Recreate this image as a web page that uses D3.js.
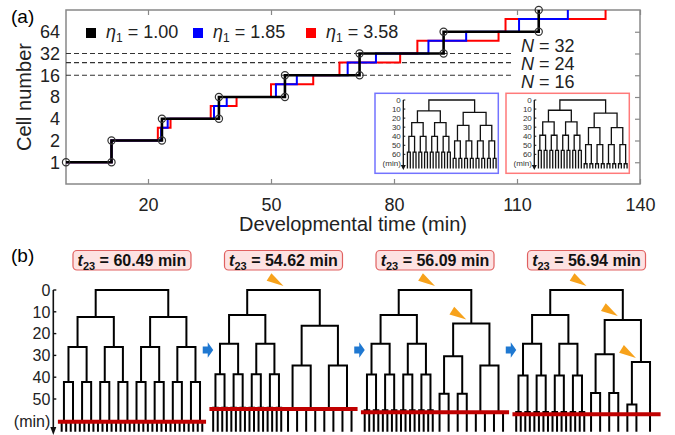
<!DOCTYPE html>
<html>
<head>
<meta charset="utf-8">
<script src="https://cdn.jsdelivr.net/npm/d3@7"></script>
<style>
body { margin: 0; background: #fff; }
svg { font-family: "Liberation Sans", Arial, sans-serif; }
</style>
</head>
<body>
<svg id="fig" width="675" height="435"></svg>
<script>
// ---- panel (a): cell number vs developmental time
const timeTicks = [20, 50, 80, 110, 140];
const cellTicks = [1, 2, 4, 8, 16, 32, 64];
const nLevels = [32, 24, 16];
const etaValues = ['1.00', '1.85', '3.58'];

// division events: time (min) and cell number after the division
const tSync = [0, 11.1, 23.4, 37.3, 53.4, 71.6, 92.1, 115.3];
const nSync = [1, 2, 4, 8, 16, 32, 64, 128];
const nAsync = [1, 2, 3, 4, 6, 8, 12, 16, 24, 32, 48, 64, 96, 128];
const tEta185 = [0, 11.1, 23.2, 24.8, 36.1, 39.2, 51.2, 56.3, 68.7, 75.6, 88.4, 97.6, 110.5, 122.4];
const tEta358 = [0, 11.1, 22.4, 25.5, 35.3, 41.6, 50.0, 60.3, 66.7, 81.5, 85.7, 105.5, 107.2, 131.6];
const insetTicks = [0, 10, 20, 30, 40, 50, 60];

// ---- panel (b): lineage trees, division times (min) per generation
const t23 = [60.49, 54.62, 56.09, 56.94];
const bTicks = [0, 10, 20, 30, 40, 50];
const genSync = [12.4, 26.1, 42.2, 60.5];
const b2Fast = [11.5, 24.6, 38.7, 54.0];
const b2Slow = [16.4, 34.6, 54.6];
const b3Fast = [11.5, 24.6, 38.8, 55.2];
const b3Slow = 15.4;
const b3SlowA = [30.4, 47.6];
const b3SlowB = [34.6, 56.1];
const b4Fast = [11.5, 24.6, 39.2, 56.0];
const b4Slow = 13.8;
const b4SlowA = [29.5, 47.2];
const b4SlowB = 33.0;
const b4SlowBA = [52.5];

const svg = d3.select('#fig');

// ================= panel (a)
const x = d3.scaleLinear().domain([0, 140]).range([66, 640]);
const y = d3.scaleLog().base(2).domain([0.5, 128]).range([184, 10]);

svg.append('text').attr('x', 11).attr('y', 23).attr('font-size', 19).text('(a)');

const gA = svg.append('g');

const styleAxis = g => {
  g.attr('font-size', null).attr('font-family', null);
  g.select('.domain').remove();
  g.selectAll('.tick line').attr('stroke', '#888').attr('stroke-width', 1.2);
  g.selectAll('.tick text').attr('fill', '#222').attr('font-size', 18);
};

gA.append('g').attr('transform', 'translate(0,184)')
  .call(d3.axisBottom(x).tickValues(timeTicks).tickSize(-5).tickPadding(14))
  .call(styleAxis);
gA.append('g').attr('transform', 'translate(0,10)')
  .call(d3.axisTop(x).tickValues(timeTicks).tickSize(-5).tickFormat(''))
  .call(styleAxis);
gA.append('g').attr('transform', 'translate(640,0)')
  .call(d3.axisRight(y).tickValues(cellTicks).tickSize(-5).tickFormat(''))
  .call(styleAxis);
gA.append('g').attr('transform', 'translate(66,0)')
  .call(d3.axisLeft(y).tickValues(cellTicks).tickSize(0).tickPadding(6).tickFormat(d3.format('d')))
  .call(styleAxis);

gA.append('rect')
  .attr('x', x(0)).attr('y', y(128))
  .attr('width', x(140) - x(0)).attr('height', y(0.5) - y(128))
  .attr('fill', 'none').attr('stroke', '#888').attr('stroke-width', 1.5);

// axis titles
svg.append('text').attr('x', 353).attr('y', 231).attr('text-anchor', 'middle')
  .attr('font-size', 20).attr('fill', '#222').text('Developmental time (min)');
svg.append('text').attr('transform', 'translate(31,97) rotate(-90)').attr('text-anchor', 'middle')
  .attr('font-size', 20).attr('fill', '#222').text('Cell number');

// reference levels
gA.selectAll('.lvl').data(nLevels).enter().append('line')
  .attr('x1', x(0)).attr('x2', x(109))
  .attr('y1', d => y(d)).attr('y2', d => y(d))
  .attr('stroke', '#333').attr('stroke-width', 1.2).attr('stroke-dasharray', '5,3');

const nLab = gA.selectAll('.nlab').data(nLevels).enter().append('text')
  .attr('x', 521).attr('y', (d, i) => 51.7 + i * 18.3)
  .attr('font-size', 18).attr('fill', '#222');
nLab.append('tspan').attr('font-style', 'italic').text('N');
nLab.append('tspan').text(d => ' = ' + d);

// staircases
svg.append('clipPath').attr('id', 'clipA').append('rect')
  .attr('x', x(0)).attr('y', y(128) - 1).attr('width', x(140) - x(0)).attr('height', y(0.5) - y(128) + 2);

const stair = d3.line().x(d => x(d[0])).y(d => y(d[1])).curve(d3.curveStepAfter);
const series = [
  { t: tEta358, n: nAsync, color: '#ff0000', w: 2 },
  { t: tEta185, n: nAsync, color: '#0000ff', w: 2 },
  { t: tSync, n: nSync, color: '#000000', w: 2.6 }
];
series.forEach(s => {
  gA.append('path')
    .attr('d', stair(s.t.map((t, i) => [t, s.n[i]])))
    .attr('fill', 'none').attr('stroke', s.color).attr('stroke-width', s.w)
    .attr('clip-path', 'url(#clipA)');
});

const marks = [[tSync[0], nSync[0]]];
tSync.forEach((t, i) => { if (i > 0) { marks.push([t, nSync[i - 1]]); marks.push([t, nSync[i]]); } });
gA.selectAll('.mk').data(marks).enter().append('circle')
  .attr('cx', d => x(d[0])).attr('cy', d => y(d[1])).attr('r', 3.6)
  .attr('fill', 'none').attr('stroke', '#333').attr('stroke-width', 1.2);

// legend
const legX = [86, 193, 306];
const legColors = ['#000000', '#0000ff', '#ff0000'];
const leg = gA.selectAll('.leg').data(etaValues).enter().append('g')
  .attr('transform', (d, i) => `translate(${legX[i]},28)`);
leg.append('rect').attr('width', 10).attr('height', 10).attr('fill', (d, i) => legColors[i]);
const legT = leg.append('text').attr('x', 20).attr('y', 10).attr('font-size', 18).attr('fill', '#222');
legT.append('tspan').attr('font-style', 'italic').text('η');
legT.append('tspan').attr('font-size', 12).attr('dy', 4).text('1');
legT.append('tspan').attr('dy', -4).text(d => ' = ' + d);

// ---------- tree helpers
const chain = times => times.length
  ? { t: times[0], kids: [chain(times.slice(1)), chain(times.slice(1))] }
  : null;
const split = (t, a, b, mark) => ({ t, kids: [a, b], mark });
const uLine = d3.line();

function drawTree(g, node, x0, x1, ys, tEnd, depth, marked) {
  const xm = (x0 + x1) / 2, xa = (x0 + xm) / 2, xb = (xm + x1) / 2;
  const [a, b] = node.kids;
  g.append('path').attr('d', uLine([
    [xa, ys(a ? a.t : tEnd)], [xa, ys(node.t)], [xb, ys(node.t)], [xb, ys(b ? b.t : tEnd)]
  ]));
  if (node.mark) marked.push({ x: xm, y: ys(node.t), depth });
  if (a) drawTree(g, a, x0, xm, ys, tEnd, depth + 1, marked);
  if (b) drawTree(g, b, xm, x1, ys, tEnd, depth + 1, marked);
}

// ---------- insets of panel (a)
const yI = d3.scaleLinear().domain([0, 70]).range([100, 163.4]);
const insets = [
  { t: tEta185, stroke: '#7373ff', bx: 375 },
  { t: tEta358, stroke: '#ff7a7a', bx: 506 }
];
insets.forEach(ins => {
  const g = gA.append('g');
  g.append('rect').attr('x', ins.bx).attr('y', 93.3).attr('width', 123.3).attr('height', 80)
    .attr('fill', '#fff').attr('stroke', ins.stroke).attr('stroke-width', 1.5);
  const ax = ins.bx + 28.3;
  g.append('line').attr('x1', ax).attr('x2', ax).attr('y1', yI(0)).attr('y2', 166)
    .attr('stroke', '#111').attr('stroke-width', 1.3);
  g.append('path').attr('d', `M${ax - 2.5},${165}L${ax + 2.5},${165}L${ax},${170}Z`).attr('fill', '#111');
  g.selectAll('.it').data(insetTicks).enter().append('line')
    .attr('x1', ax).attr('x2', ax + 2).attr('y1', d => yI(d)).attr('y2', d => yI(d))
    .attr('stroke', '#111').attr('stroke-width', 1);
  g.selectAll('.il').data(insetTicks).enter().append('text')
    .attr('x', ax - 2.5).attr('y', d => yI(d) + 3).attr('text-anchor', 'end')
    .attr('font-size', 8).attr('fill', '#333').text(d => d);
  g.append('text').attr('x', ax - 2.5).attr('y', yI(70) + 3).attr('text-anchor', 'end')
    .attr('font-size', 8).attr('fill', '#333').text('(min)');

  // the fast half follows N = 3·2^k, the slow half N = 2^(k+2); times relative to first division
  const t0 = ins.t[1];
  const fast = [3, 6, 12, 24].map(n => ins.t[nAsync.indexOf(n)] - t0);
  const slow = [4, 8, 16, 32].map(n => ins.t[nAsync.indexOf(n)] - t0);
  const tg = g.append('g').attr('fill', 'none').attr('stroke', '#111').attr('stroke-width', 1.3);
  drawTree(tg, split(0, chain(fast), chain(slow)), ins.bx + 31, ins.bx + 122.5, yI, 75.5, 0, []);
});

// ================= panel (b)
svg.append('text').attr('x', 11).attr('y', 262).attr('font-size', 19).text('(b)');

const yB = d3.scaleLinear().domain([0, 60]).range([290, 420.8]);
const band = d3.scaleBand().domain(d3.range(4)).range([59.4, 659.1]).paddingInner(0.042);
const bw = band.bandwidth();

const trees = [
  split(0, chain(genSync), chain(genSync)),
  split(0, chain(b2Fast), chain(b2Slow), true),
  split(0, chain(b3Fast), split(b3Slow, chain(b3SlowA), chain(b3SlowB), true), true),
  split(0, chain(b4Fast),
    split(b4Slow, chain(b4SlowA), split(b4SlowB, chain(b4SlowBA), null, true), true), true)
];

// y axis of first tree
const axB = 53.3;
svg.append('line').attr('x1', axB).attr('x2', axB).attr('y1', yB(0)).attr('y2', 428)
  .attr('stroke', '#111').attr('stroke-width', 1.6);
svg.append('path').attr('d', `M${axB - 3},427L${axB + 3},427L${axB},435Z`).attr('fill', '#111');
svg.selectAll('.bt').data(bTicks).enter().append('line')
  .attr('x1', axB).attr('x2', axB + 3).attr('y1', d => yB(d)).attr('y2', d => yB(d))
  .attr('stroke', '#111').attr('stroke-width', 1.4);
svg.selectAll('.bl').data(bTicks).enter().append('text')
  .attr('x', axB - 3).attr('y', d => yB(d) + 5.8).attr('text-anchor', 'end')
  .attr('font-size', 16).attr('fill', '#222').text(d => d);
svg.append('text').attr('x', axB - 3).attr('y', yB(60) + 5.8).attr('text-anchor', 'end')
  .attr('font-size', 16).attr('fill', '#222').text('(min)');

trees.forEach((tree, i) => {
  const x0 = band(i), cx = x0 + bw / 2;
  const g = svg.append('g');
  const tg = g.append('g').attr('fill', 'none').attr('stroke', '#000').attr('stroke-width', 2);
  const marked = [];
  drawTree(tg, tree, x0, x0 + bw, yB, 65, 0, marked);

  // t23 line
  g.append('line').attr('x1', x0 - 1.5).attr('x2', x0 + bw + 1.5)
    .attr('y1', yB(t23[i])).attr('y2', yB(t23[i]))
    .attr('stroke', '#c00000').attr('stroke-width', 4);

  // label box
  g.append('rect').attr('x', cx - 59).attr('y', 250.5).attr('width', 118).attr('height', 19.5)
    .attr('rx', 4).attr('fill', '#fde2e2').attr('stroke', '#e06060').attr('stroke-width', 1.2);
  const lt = g.append('text').attr('x', cx).attr('y', 265.5).attr('text-anchor', 'middle')
    .attr('font-size', 16).attr('font-weight', 'bold').attr('fill', '#111');
  lt.append('tspan').attr('font-style', 'italic').text('t');
  lt.append('tspan').attr('font-size', 11).attr('dy', 4).text('23');
  lt.append('tspan').attr('dy', -4).text(' = ' + t23[i].toFixed(2) + ' min');

  // orange markers pointing at the slowed nodes
  marked.forEach(m => {
    const tip = [m.x + (m.depth === 0 ? 0 : -5), m.y - 4];
    const d = [0.85, 0.53], len = 17, hw = 4.5;
    const bc = [tip[0] - d[0] * len, tip[1] - d[1] * len];
    g.append('path')
      .attr('d', `M${tip[0]},${tip[1]}L${bc[0] - d[1] * hw},${bc[1] + d[0] * hw}L${bc[0] + d[1] * hw},${bc[1] - d[0] * hw}Z`)
      .attr('fill', '#f7a21b');
  });

  // blue arrows between trees
  if (i < 3) {
    const ax = x0 + bw + (band.step() - bw) / 2, ay = 350;
    g.append('path')
      .attr('d', `M${ax - 5},${ay - 3.4}H${ax}V${ay - 7.8}L${ax + 5.5},${ay}L${ax},${ay + 7.8}V${ay + 3.4}H${ax - 5}Z`)
      .attr('fill', '#1f78d1');
  }
});
</script>
</body>
</html>
